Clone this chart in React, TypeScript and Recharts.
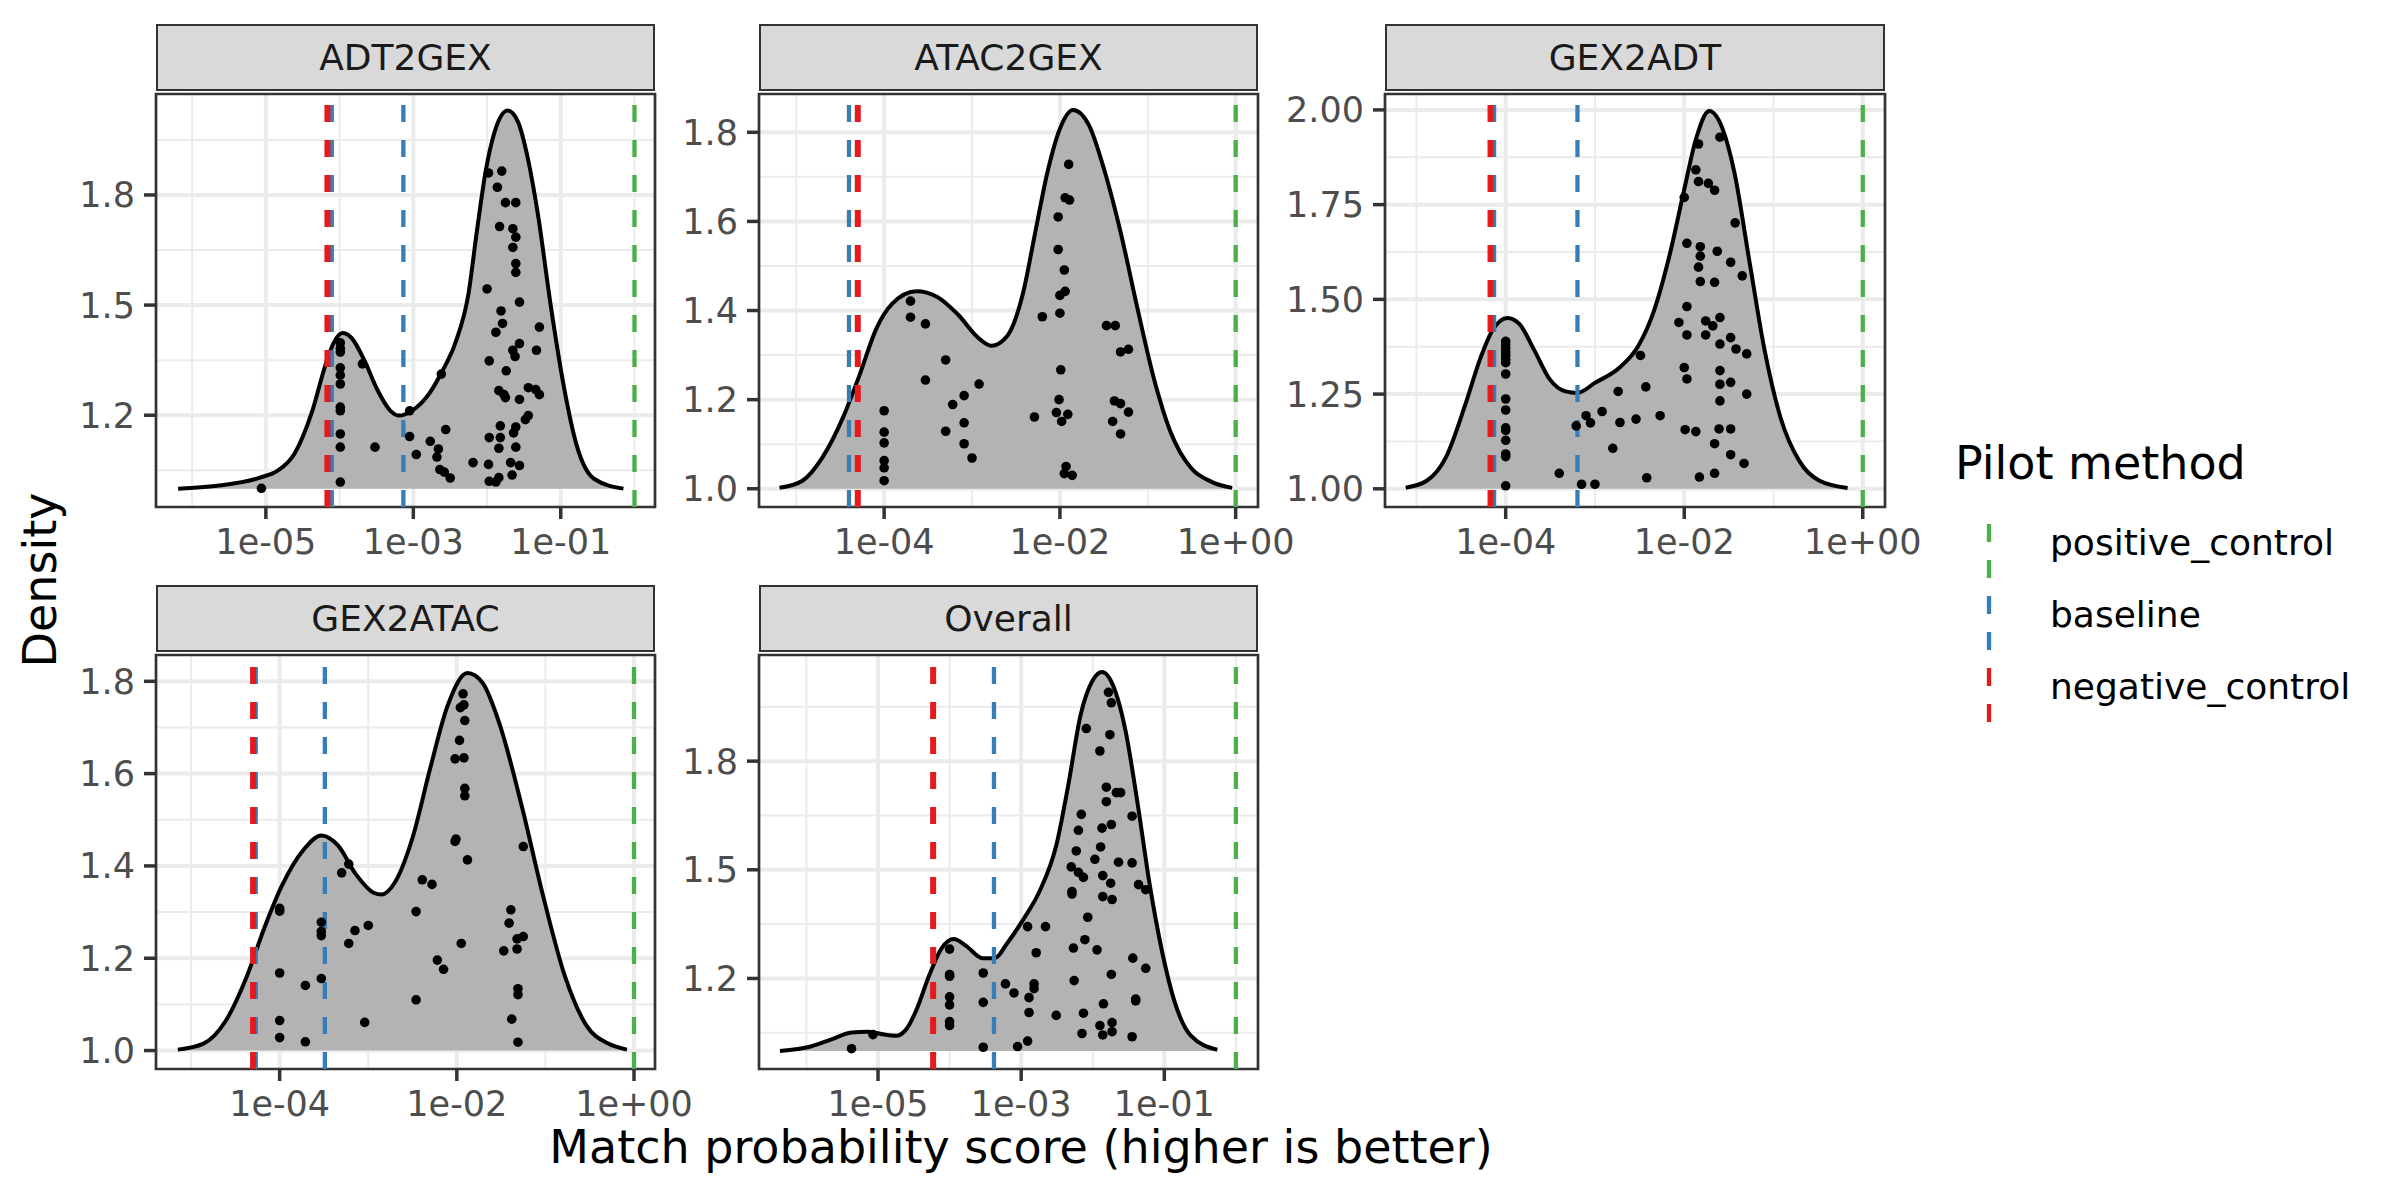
import React from "react";
import {
  ComposedChart,
  Area,
  Scatter,
  XAxis,
  YAxis,
  CartesianGrid,
  ReferenceLine,
  ReferenceArea,
} from "recharts";

const FONT = "DejaVu Sans, Verdana, sans-serif";

// x values are log10 of the match probability score
const panelNames = ["ADT2GEX", "ATAC2GEX", "GEX2ADT", "GEX2ATAC", "Overall"];

// density curves
const adt2gexCurveX = [-6.19, -5.66, -5.08, -4.84, -4.61, -4.37, -4.19, -4.08, -3.96, -3.84, -3.66, -3.49, -3.31, -3.19, -3.02, -2.78, -2.61, -2.43, -2.25, -2.14, -2.02, -1.9, -1.72, -1.58, -1.46, -1.31, -1.14, -0.96, -0.78, -0.55, -0.15];
const adt2gexCurveY = [1.0, 1.008, 1.03, 1.049, 1.096, 1.212, 1.338, 1.397, 1.424, 1.411, 1.348, 1.27, 1.212, 1.199, 1.212, 1.26, 1.319, 1.397, 1.533, 1.698, 1.863, 1.97, 2.03, 1.999, 1.912, 1.747, 1.504, 1.28, 1.115, 1.027, 1.0];
const atac2gexCurveX = [-5.19, -4.93, -4.7, -4.47, -4.28, -4.09, -3.91, -3.63, -3.4, -3.16, -2.93, -2.78, -2.6, -2.42, -2.28, -2.14, -2.0, -1.85, -1.67, -1.49, -1.3, -1.12, -0.93, -0.74, -0.51, -0.28, -0.04];
const atac2gexCurveY = [1.002, 1.018, 1.071, 1.159, 1.255, 1.359, 1.415, 1.443, 1.431, 1.391, 1.339, 1.321, 1.343, 1.439, 1.576, 1.712, 1.808, 1.85, 1.816, 1.712, 1.568, 1.407, 1.247, 1.127, 1.047, 1.016, 1.002];
const gex2adtCurveX = [-5.12, -4.88, -4.67, -4.45, -4.28, -4.15, -3.98, -3.85, -3.68, -3.51, -3.33, -3.2, -2.99, -2.73, -2.52, -2.34, -2.17, -2.0, -1.87, -1.72, -1.57, -1.44, -1.27, -1.1, -0.92, -0.71, -0.49, -0.17];
const gex2adtCurveY = [1.003, 1.022, 1.083, 1.224, 1.347, 1.418, 1.451, 1.436, 1.366, 1.29, 1.257, 1.253, 1.281, 1.319, 1.375, 1.469, 1.611, 1.79, 1.922, 1.997, 1.95, 1.837, 1.601, 1.366, 1.187, 1.073, 1.022, 1.002];
const gex2atacCurveX = [-5.15, -4.86, -4.61, -4.37, -4.17, -3.98, -3.73, -3.53, -3.34, -3.14, -2.94, -2.85, -2.7, -2.5, -2.3, -2.11, -1.88, -1.71, -1.52, -1.27, -1.03, -0.78, -0.54, -0.29, -0.08];
const gex2atacCurveY = [1.002, 1.015, 1.064, 1.161, 1.267, 1.355, 1.435, 1.466, 1.444, 1.382, 1.342, 1.338, 1.364, 1.461, 1.612, 1.744, 1.818, 1.797, 1.709, 1.532, 1.338, 1.161, 1.055, 1.015, 1.002];
const overallCurveX = [-6.37, -5.94, -5.66, -5.37, -5.14, -4.91, -4.74, -4.6, -4.46, -4.29, -4.11, -3.94, -3.77, -3.54, -3.37, -3.2, -2.97, -2.74, -2.51, -2.34, -2.17, -2.0, -1.87, -1.71, -1.54, -1.37, -1.2, -1.03, -0.86, -0.63, -0.26];
const overallCurveY = [1.0, 1.012, 1.031, 1.051, 1.053, 1.045, 1.042, 1.061, 1.115, 1.206, 1.284, 1.309, 1.29, 1.256, 1.256, 1.296, 1.363, 1.442, 1.567, 1.736, 1.927, 2.023, 2.046, 2.006, 1.882, 1.679, 1.454, 1.273, 1.138, 1.042, 1.003];

// jittered points [x, y]
const adt2gexPoints = [
  [-5.06, 1.001],
  [-3.99, 1.397], [-3.99, 1.382], [-3.99, 1.372], [-3.99, 1.329], [-3.99, 1.309], [-3.99, 1.285], [-3.99, 1.222], [-3.99, 1.212], [-3.99, 1.149], [-3.99, 1.113], [-3.99, 1.018],
  [-3.69, 1.34], [-3.52, 1.113],
  [-3.05, 1.212], [-3.05, 1.142], [-2.96, 1.093],
  [-2.77, 1.129], [-2.66, 1.108], [-2.68, 1.086], [-2.64, 1.052], [-2.58, 1.045], [-2.5, 1.029], [-2.62, 1.312], [-2.56, 1.161],
  [-2.19, 1.071],
  [-1.98, 1.86], [-1.8, 1.865], [-1.86, 1.821], [-1.75, 1.779], [-1.61, 1.779], [-1.83, 1.714], [-1.65, 1.708], [-1.61, 1.685], [-1.65, 1.657], [-1.61, 1.613],
  [-1.61, 1.589], [-2.0, 1.544], [-1.56, 1.508], [-1.81, 1.484], [-1.79, 1.45], [-1.88, 1.426], [-1.29, 1.44], [-1.56, 1.395], [-1.65, 1.377], [-1.62, 1.36],
  [-1.33, 1.377], [-1.97, 1.348], [-1.74, 1.321], [-1.84, 1.267], [-1.77, 1.256], [-1.75, 1.248], [-1.44, 1.275], [-1.34, 1.27], [-1.29, 1.256], [-1.56, 1.243],
  [-1.44, 1.199], [-1.48, 1.188], [-1.82, 1.171], [-1.61, 1.168], [-1.64, 1.152], [-1.97, 1.139], [-1.82, 1.139], [-1.84, 1.11], [-1.61, 1.113], [-1.98, 1.066],
  [-1.68, 1.071], [-1.56, 1.063], [-1.66, 1.037], [-1.97, 1.02], [-1.88, 1.018], [-1.84, 1.03],
];
const atac2gexPoints = [
  [-4.0, 1.175], [-4.0, 1.127], [-4.0, 1.103], [-4.0, 1.063], [-4.0, 1.047], [-4.0, 1.018],
  [-3.7, 1.421], [-3.7, 1.385], [-3.53, 1.37], [-3.53, 1.244], [-3.3, 1.289], [-3.3, 1.129], [-3.22, 1.189], [-3.09, 1.209], [-3.09, 1.148], [-3.09, 1.101], [-3.0, 1.069], [-2.92, 1.235],
  [-2.29, 1.161], [-2.2, 1.386], [-2.02, 1.61], [-2.02, 1.537], [-2.0, 1.434], [-2.0, 1.394], [-1.95, 1.491], [-1.94, 1.443], [-1.94, 1.653], [-1.89, 1.648], [-1.9, 1.728],
  [-1.99, 1.267], [-2.01, 1.2], [-2.04, 1.171], [-1.98, 1.151], [-1.91, 1.167], [-1.93, 1.05], [-1.95, 1.034], [-1.86, 1.03],
  [-1.47, 1.366], [-1.37, 1.366], [-1.31, 1.307], [-1.22, 1.313], [-1.38, 1.197], [-1.31, 1.191], [-1.22, 1.172], [-1.4, 1.151], [-1.31, 1.123],
];
const gex2adtPoints = [
  [-4.0, 1.389], [-4.0, 1.38], [-4.0, 1.37], [-4.0, 1.361], [-4.0, 1.352], [-4.0, 1.342], [-4.0, 1.333], [-4.0, 1.303], [-4.0, 1.237], [-4.0, 1.208], [-4.0, 1.161],
  [-4.0, 1.154], [-4.0, 1.128], [-4.0, 1.092], [-4.0, 1.085], [-4.0, 1.008],
  [-3.4, 1.041], [-3.21, 1.166], [-3.15, 1.012], [-3.1, 1.193], [-3.05, 1.174], [-3.0, 1.012], [-2.92, 1.204], [-2.8, 1.107], [-2.74, 1.257], [-2.72, 1.175],
  [-2.54, 1.184], [-2.49, 1.352], [-2.43, 1.269], [-2.42, 1.029], [-2.27, 1.193],
  [-2.06, 1.439], [-2.0, 1.769], [-2.0, 1.32], [-1.97, 1.406], [-1.97, 1.481], [-1.97, 1.648], [-1.97, 1.29], [-1.99, 1.156], [-1.87, 1.151], [-1.87, 1.842],
  [-1.84, 1.91], [-1.84, 1.811], [-1.82, 1.639], [-1.82, 1.614], [-1.84, 1.585], [-1.82, 1.547], [-1.83, 1.031], [-1.76, 1.443], [-1.76, 1.406], [-1.73, 1.806],
  [-1.68, 1.43], [-1.66, 1.788], [-1.66, 1.545], [-1.66, 1.119], [-1.66, 1.041], [-1.63, 1.627], [-1.6, 1.928], [-1.6, 1.452], [-1.6, 1.382], [-1.6, 1.312],
  [-1.6, 1.276], [-1.6, 1.232], [-1.61, 1.158], [-1.48, 1.598], [-1.48, 1.399], [-1.48, 1.281], [-1.48, 1.158], [-1.48, 1.09], [-1.43, 1.702], [-1.42, 1.369],
  [-1.35, 1.562], [-1.33, 1.067], [-1.3, 1.356], [-1.3, 1.25],
];
const gex2atacPoints = [
  [-4.0, 1.308], [-4.0, 1.302], [-4.0, 1.168], [-4.0, 1.065], [-4.0, 1.028], [-3.71, 1.141], [-3.71, 1.019], [-3.53, 1.278], [-3.53, 1.258], [-3.53, 1.249],
  [-3.53, 1.156], [-3.3, 1.385], [-3.22, 1.404], [-3.22, 1.232], [-3.15, 1.26], [-3.04, 1.061], [-3.0, 1.271], [-2.46, 1.301], [-2.46, 1.11], [-2.39, 1.37],
  [-2.28, 1.36], [-2.22, 1.196], [-2.15, 1.176], [-2.02, 1.632], [-2.02, 1.453], [-2.01, 1.458], [-1.97, 1.672], [-1.96, 1.743], [-1.92, 1.749], [-1.93, 1.773],
  [-1.91, 1.715], [-1.92, 1.634], [-1.91, 1.568], [-1.91, 1.552], [-1.88, 1.413], [-1.95, 1.232], [-1.47, 1.216], [-1.39, 1.305], [-1.41, 1.276], [-1.32, 1.242],
  [-1.32, 1.22], [-1.25, 1.247], [-1.25, 1.442], [-1.31, 1.134], [-1.31, 1.121], [-1.38, 1.068], [-1.31, 1.018],
];
const overallPoints = [
  [-5.37, 1.006], [-5.07, 1.045], [-4.0, 1.281], [-4.0, 1.211], [-4.0, 1.206], [-4.0, 1.149], [-4.0, 1.127], [-4.0, 1.081], [-4.0, 1.07], [-3.53, 1.215],
  [-3.53, 1.134], [-3.53, 1.01], [-3.22, 1.185], [-3.1, 1.16], [-3.05, 1.012], [-2.91, 1.343], [-2.91, 1.027], [-2.89, 1.147], [-2.89, 1.106], [-2.82, 1.185],
  [-2.82, 1.172], [-2.79, 1.271], [-2.66, 1.343], [-2.51, 1.098], [-2.3, 1.508], [-2.29, 1.44], [-2.29, 1.433], [-2.27, 1.284], [-2.26, 1.194], [-2.23, 1.552],
  [-2.2, 1.609], [-2.16, 1.653], [-2.2, 1.493], [-2.13, 1.479], [-2.07, 1.369], [-2.11, 1.307], [-2.13, 1.104], [-2.15, 1.048], [-2.09, 1.89], [-1.97, 1.529],
  [-1.94, 1.279], [-1.9, 1.828], [-1.89, 1.563], [-1.87, 1.615], [-1.86, 1.484], [-1.86, 1.426], [-1.85, 1.13], [-1.9, 1.07], [-1.86, 1.044], [-1.81, 1.688],
  [-1.81, 1.728], [-1.78, 1.99], [-1.74, 1.961], [-1.76, 1.873], [-1.74, 1.625], [-1.75, 1.463], [-1.73, 1.418], [-1.74, 1.211], [-1.73, 1.078], [-1.73, 1.053],
  [-1.67, 1.713], [-1.61, 1.713], [-1.64, 1.521], [-1.45, 1.648], [-1.45, 1.519], [-1.44, 1.256], [-1.4, 1.143], [-1.4, 1.138], [-1.45, 1.039], [-1.36, 1.459],
  [-1.26, 1.445], [-1.26, 1.228],
];

// reference methods (vertical dashed lines)
const negativeControl = [[-4.165], [-4.3], [-4.17], [-4.3], [-4.23]];
const baseline = [[-4.106, -3.135], [-4.4], [-4.13, -3.196], [-4.27, -3.49], [-3.38]];
const positiveControl = [[0], [0], [0], [0], [0]];

const legendLabels = ["positive_control", "baseline", "negative_control"];
const legendColors = ["#4DAF4A", "#377EB8", "#E41A1C"];

// ticks
const xTicksOdd = [-5, -3, -1];
const xMinorOdd = [-6, -4, -2, 0];
const xTicksEven = [-4, -2, 0];
const xMinorEven = [-5, -3, -1];
const yTicks3 = [1.2, 1.5, 1.8];
const yMinor3 = [1.05, 1.35, 1.65, 1.95];
const yTicks5 = [1.0, 1.2, 1.4, 1.6, 1.8];
const yMinor5 = [1.1, 1.3, 1.5, 1.7];
const yTicksQ = [1.0, 1.25, 1.5, 1.75, 2.0];
const yMinorQ = [1.125, 1.375, 1.625, 1.875];

const curvesX = [adt2gexCurveX, atac2gexCurveX, gex2adtCurveX, gex2atacCurveX, overallCurveX];
const curvesY = [adt2gexCurveY, atac2gexCurveY, gex2adtCurveY, gex2atacCurveY, overallCurveY];
const pointSets = [adt2gexPoints, atac2gexPoints, gex2adtPoints, gex2atacPoints, overallPoints];

// layout of each facet (pixels) and its scale ranges
const layout = [
  { left: 156, top: 94, w: 499, h: 413, xd: [-6.49, 0.278], yd: [0.95, 2.075], xt: xTicksOdd, xm: xMinorOdd, yt: yTicks3, ym: yMinor3, dig: 1 },
  { left: 759, top: 94, w: 499, h: 413, xd: [-5.424, 0.254], yd: [0.959, 1.886], xt: xTicksEven, xm: xMinorEven, yt: yTicks5, ym: yMinor5, dig: 1 },
  { left: 1385, top: 94, w: 500, h: 413, xd: [-5.352, 0.249], yd: [0.952, 2.042], xt: xTicksEven, xm: xMinorEven, yt: yTicksQ, ym: yMinorQ, dig: 2 },
  { left: 156, top: 655, w: 499, h: 414, xd: [-5.396, 0.237], yd: [0.96, 1.857], xt: xTicksEven, xm: xMinorEven, yt: yTicks5, ym: yMinor5, dig: 1 },
  { left: 759, top: 655, w: 499, h: 414, xd: [-6.663, 0.309], yd: [0.95, 2.093], xt: xTicksOdd, xm: xMinorOdd, yt: yTicks3, ym: yMinor3, dig: 1 },
];

const YW = 120;
const MT = 10;
const MR = 80;
const XH = 70;
const DASH = "17 18";

const sci = (v: number) => "1e" + (v < 0 ? "-" : "+") + String(Math.abs(v)).padStart(2, "0");

const tickStyle = { fontSize: 35, fill: "#4D4D4D", fontFamily: FONT };

function Facet({ i }: { i: number }) {
  const L = layout[i];
  const curve = curvesX[i].map((x, k) => ({ x, y: curvesY[i][k] }));
  const pts = pointSets[i].map(([x, y]) => ({ x, y }));
  return (
    <>
      <div
        style={{
          position: "absolute",
          left: L.left,
          top: L.top - 70,
          width: L.w,
          height: 67,
          boxSizing: "border-box",
          background: "#D9D9D9",
          border: "2.7px solid #333333",
          display: "flex",
          alignItems: "center",
          justifyContent: "center",
          fontFamily: FONT,
          fontSize: 36,
          color: "#1A1A1A",
        }}
      >
        {panelNames[i]}
      </div>
      <div style={{ position: "absolute", left: L.left - YW, top: L.top - MT }}>
        <ComposedChart
          width={YW + L.w + MR}
          height={MT + L.h + XH}
          margin={{ top: MT, right: MR, left: 0, bottom: 0 }}
        >
          <CartesianGrid stroke="#EBEBEB" strokeWidth={2} verticalValues={L.xm} horizontalValues={L.ym} />
          <CartesianGrid stroke="#EBEBEB" strokeWidth={4} verticalValues={L.xt} horizontalValues={L.yt} />
          <XAxis
            dataKey="x"
            type="number"
            domain={L.xd}
            allowDataOverflow
            ticks={L.xt}
            interval={0}
            tickFormatter={sci}
            height={XH}
            axisLine={false}
            tickSize={12}
            tickMargin={10}
            tickLine={{ stroke: "#333333", strokeWidth: 3.5 }}
            tick={tickStyle}
          />
          <YAxis
            type="number"
            domain={L.yd}
            allowDataOverflow
            ticks={L.yt}
            interval={0}
            tickFormatter={(v: number) => v.toFixed(L.dig)}
            width={YW}
            axisLine={false}
            tickSize={12}
            tickMargin={9}
            tickLine={{ stroke: "#333333", strokeWidth: 3.5 }}
            tick={tickStyle}
          />
          <Area
            data={curve}
            dataKey="y"
            type="monotone"
            baseValue={1}
            fill="#B3B3B3"
            fillOpacity={1}
            stroke="#000000"
            strokeWidth={4}
            isAnimationActive={false}
          />
          {positiveControl[i].map((v, k) => (
            <ReferenceLine key={"p" + k} x={v} stroke={legendColors[0]} strokeWidth={4.3} strokeDasharray={DASH} ifOverflow="visible" />
          ))}
          {baseline[i].map((v, k) => (
            <ReferenceLine key={"b" + k} x={v} stroke={legendColors[1]} strokeWidth={4.3} strokeDasharray={DASH} ifOverflow="visible" />
          ))}
          {negativeControl[i].map((v, k) => (
            <ReferenceLine key={"n" + k} x={v} stroke={legendColors[2]} strokeWidth={6} strokeDasharray={DASH} ifOverflow="visible" />
          ))}
          <Scatter
            data={pts}
            dataKey="y"
            isAnimationActive={false}
            shape={(p: any) => <circle cx={p.cx} cy={p.cy} r={4.8} fill="#000000" />}
          />
          <ReferenceArea
            x1={L.xd[0]}
            x2={L.xd[1]}
            y1={L.yd[0]}
            y2={L.yd[1]}
            fill="none"
            stroke="#333333"
            strokeWidth={2.7}
            ifOverflow="visible"
          />
        </ComposedChart>
      </div>
    </>
  );
}

function LegendBox() {
  return (
    <svg
      width={460}
      height={330}
      style={{ position: "absolute", left: 1940, top: 420, fontFamily: FONT }}
    >
      <text x={15} y={59} fontSize={46} fill="#000000">
        Pilot method
      </text>
      {legendLabels.map((lab, k) => {
        const top = 86 + 72 * k;
        return (
          <g key={lab}>
            <line
              x1={49}
              x2={49}
              y1={top + 72}
              y2={top}
              stroke={legendColors[k]}
              strokeWidth={4.3}
              strokeDasharray="18 18"
            />
            <text x={110} y={top + 36} fontSize={36} dominantBaseline="central" fill="#000000">
              {lab}
            </text>
          </g>
        );
      })}
    </svg>
  );
}

export default function App() {
  return (
    <div
      style={{
        position: "absolute",
        left: 0,
        top: 0,
        width: 2400,
        height: 1200,
        background: "#FFFFFF",
        overflow: "hidden",
        fontFamily: FONT,
      }}
    >
      {layout.map((_, i) => (
        <Facet key={i} i={i} />
      ))}
      <LegendBox />
      <svg width={2400} height={1200} style={{ position: "absolute", left: 0, top: 0, pointerEvents: "none" }}>
        <text x={56} y={580} transform="rotate(-90 56 580)" textAnchor="middle" fontSize={46} fill="#000000" fontFamily={FONT}>
          Density
        </text>
        <text x={1021} y={1163} textAnchor="middle" fontSize={46} fill="#000000" fontFamily={FONT}>
          Match probability score (higher is better)
        </text>
      </svg>
    </div>
  );
}
